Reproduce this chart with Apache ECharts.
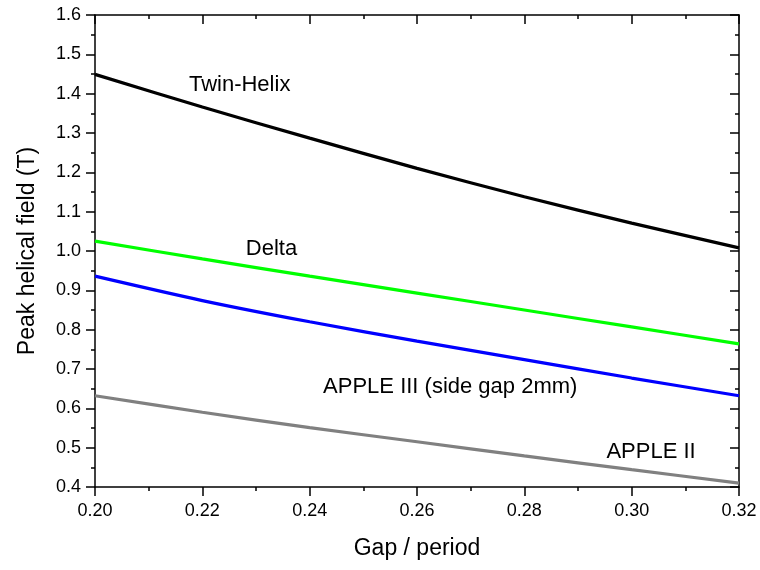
<!DOCTYPE html>
<html>
<head>
<meta charset="utf-8">
<script src="https://cdn.jsdelivr.net/npm/echarts@6/dist/echarts.min.js"></script>
<style>
html,body{margin:0;padding:0;background:#fff;}
#chart{width:760px;height:570px;}
</style>
</head>
<body>
<div id="chart"></div>
<script>
var gapPeriod = [0.20, 0.22, 0.24, 0.26, 0.28, 0.30, 0.32];
var twinHelix = [1.449, 1.366, 1.287, 1.210, 1.138, 1.071, 1.008];
var delta     = [1.025, 0.980, 0.936, 0.893, 0.850, 0.807, 0.764];
var apple3    = [0.936, 0.874, 0.820, 0.771, 0.724, 0.677, 0.632];
var apple2    = [0.632, 0.590, 0.551, 0.515, 0.479, 0.444, 0.410];
var xTicks = { min: 0.20, max: 0.32, step: 0.02 };
var yTicks = { min: 0.4, max: 1.6, step: 0.1 };
var labelTexts = ['Twin-Helix', 'Delta', 'APPLE III (side gap 2mm)', 'APPLE II'];
var labelX = [0.2175, 0.2281, 0.2425, 0.2953];
var labelY = [1.422, 1.005, 0.654, 0.489];

function pairs(ys) { return gapPeriod.map(function (x, i) { return [x, ys[i]]; }); }
var FONT = '"Liberation Sans", Arial, sans-serif';
var chart = echarts.init(document.getElementById('chart'), null, { renderer: 'canvas' });

function axisBase() {
  return {
    axisLine: { show: true, onZero: false, lineStyle: { color: '#000', width: 1.5 } },
    splitLine: { show: false }
  };
}
var xBottom = Object.assign(axisBase(), {
  type: 'value', position: 'bottom', min: xTicks.min, max: xTicks.max, interval: xTicks.step,
  name: 'Gap / period', nameLocation: 'middle', nameGap: 50,
  nameTextStyle: { fontFamily: FONT, fontSize: 23, color: '#000' },
  axisTick: { show: true, inside: false, length: 9, lineStyle: { color: '#000', width: 1.5 } },
  minorTick: { show: true, splitNumber: 2, length: 4, lineStyle: { color: '#000', width: 1.5 } },
  axisLabel: { fontFamily: FONT, fontSize: 18, color: '#000', margin: 15,
    formatter: function (v) { return v.toFixed(2); } }
});
var xTop = Object.assign(axisBase(), {
  type: 'value', position: 'top', min: xTicks.min, max: xTicks.max, interval: xTicks.step,
  axisTick: { show: true, inside: true, length: 9, lineStyle: { color: '#000', width: 1.5 } },
  minorTick: { show: true, splitNumber: 2, length: 4, lineStyle: { color: '#000', width: 1.5 } },
  axisLabel: { show: false }
});
var yLeft = Object.assign(axisBase(), {
  type: 'value', position: 'left', min: yTicks.min, max: yTicks.max, interval: yTicks.step,
  name: 'Peak helical field (T)', nameLocation: 'middle', nameGap: 56,
  nameTextStyle: { fontFamily: FONT, fontSize: 23, color: '#000' },
  axisTick: { show: true, inside: false, length: 9, lineStyle: { color: '#000', width: 1.5 } },
  minorTick: { show: true, splitNumber: 2, length: 4, lineStyle: { color: '#000', width: 1.5 } },
  axisLabel: { fontFamily: FONT, fontSize: 18, color: '#000', margin: 14,
    formatter: function (v) { return v.toFixed(1); } }
});
var yRight = Object.assign(axisBase(), {
  type: 'value', position: 'right', min: yTicks.min, max: yTicks.max, interval: yTicks.step,
  axisTick: { show: true, inside: true, length: 9, lineStyle: { color: '#000', width: 1.5 } },
  minorTick: { show: true, splitNumber: 2, length: 4, lineStyle: { color: '#000', width: 1.5 } },
  axisLabel: { show: false }
});

function lineSeries(name, ys, color) {
  return {
    name: name, type: 'line', xAxisIndex: 0, yAxisIndex: 0, data: pairs(ys),
    smooth: 0.3, showSymbol: false, symbol: 'none', animation: false,
    lineStyle: { color: color, width: 3.2 }, z: 3
  };
}

var option = {
  animation: false,
  backgroundColor: '#fff',
  grid: { left: 95, right: 21, top: 15, bottom: 83, containLabel: false },
  xAxis: [xBottom, xTop],
  yAxis: [yLeft, yRight],
  series: [
    lineSeries('Twin-Helix', twinHelix, '#000000'),
    lineSeries('Delta', delta, '#00ff00'),
    lineSeries('APPLE III (side gap 2mm)', apple3, '#0000ff'),
    lineSeries('APPLE II', apple2, '#808080'),
    {
      type: 'scatter', xAxisIndex: 0, yAxisIndex: 0, symbolSize: 0, silent: true,
      data: labelTexts.map(function (t, i) { return { value: [labelX[i], labelY[i]], name: t }; }),
      label: { show: true, position: 'right', distance: 0, formatter: '{b}',
        fontFamily: FONT, fontSize: 22, color: '#000', opacity: 1 },
      emphasis: { disabled: true }
    }
  ]
};
chart.setOption(option);
</script>
</body>
</html>
